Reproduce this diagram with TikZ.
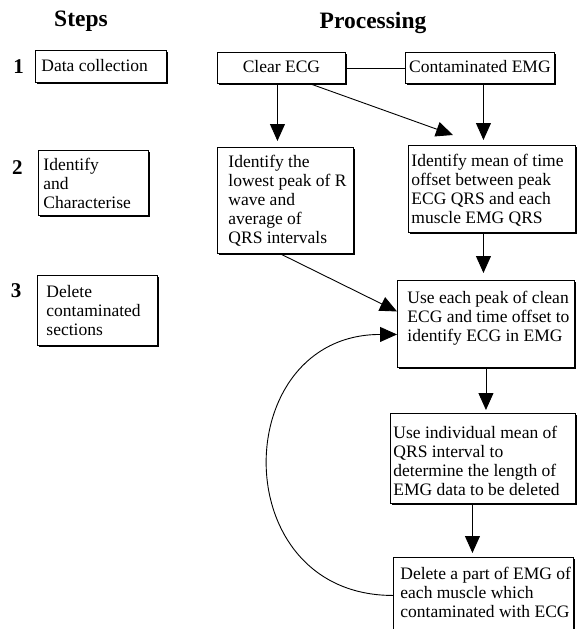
\documentclass[tikz,border=0pt]{standalone}
\usepackage{fontspec}
\setmainfont{Liberation Serif}
\usetikzlibrary{arrows.meta,shadows}
\newcommand\bodyfont{\fontsize{17.5}{19}\selectfont}
\newcommand\bxt[3]{\parbox[t]{#1}{\leftskip=#2\relax\rightskip=0pt plus 1fil\relax\parfillskip=0pt plus 1fil\relax\bodyfont #3}}
\newcommand\bxc[2]{\parbox[t]{#1}{\centering\bodyfont #2}}
\tikzset{
  box/.style={draw, line width=0.9pt, fill=white, inner sep=0pt, anchor=north west,
    drop shadow={shadow xshift=1.1pt, shadow yshift=-1.1pt, opacity=1, fill=black}},
  arr/.style={line width=0.9pt, -{Triangle[length=17pt,width=15pt]}},
  link/.style={line width=0.9pt},
  head/.style={font=\fontsize{23.5}{28}\selectfont\bfseries, inner sep=0pt, anchor=base},
  num/.style={font=\fontsize{21}{24}\selectfont\bfseries, inner sep=0pt, anchor=base}
}
\begin{document}
\begin{tikzpicture}[x=1pt,y=-1pt]
\fill[white] (0,0) rectangle (580,629);
\useasboundingbox (0,0) rectangle (580,629);

% headings and step numbers
\node[head] (steps) at (81,27) {Steps};
\node[head] (proc) at (373,28) {Processing};
\node[num] (n1) at (18.5,73) {1};
\node[num] (n2) at (17.5,174) {2};
\node[num] (n3) at (16,297) {3};

% step boxes
\node[box, minimum width=131pt, text height=21pt, text depth=11pt] (dc) at (35,50)
  {\bxt{131pt}{6pt}{Data collection}};
\node[box, minimum width=110pt, text height=20pt, text depth=45pt] (ic) at (38,150)
  {\bxt{110pt}{5pt}{Identify\\and\\Characterise}};
\node[box, minimum width=120pt, text height=22pt, text depth=48pt] (del) at (37,275)
  {\bxt{120pt}{9pt}{Delete\\contaminated\\sections}};

% processing boxes
\node[box, minimum width=128pt, text height=20pt, text depth=11pt] (clear) at (217,52)
  {\bxc{128pt}{Clear ECG}};
\node[box, minimum width=149pt, text height=20pt, text depth=11pt] (cemg) at (405,52)
  {\bxc{149pt}{Contaminated EMG}};
\node[box, minimum width=136pt, text height=20pt, text depth=86pt] (low) at (217,147)
  {\bxt{136pt}{11pt}{Identify the\\lowest peak of R\\wave and\\average of\\QRS intervals}};
\node[box, minimum width=167pt, text height=21pt, text depth=66pt] (mean) at (408,145)
  {\bxt{167pt}{3pt}{Identify mean of time\\offset between peak\\ECG QRS and each\\muscle EMG QRS}};
\node[box, minimum width=177pt, text height=23pt, text depth=64pt] (peak) at (397,280)
  {\bxt{177pt}{10pt}{Use each peak of clean\\ECG and time offset to\\identify ECG in EMG}};
\node[box, minimum width=185pt, text height=25pt, text depth=65pt] (indiv) at (390,413)
  {\bxt{185pt}{3pt}{Use individual mean of\\QRS interval to\\determine the length of\\EMG data to be deleted}};
\node[box, minimum width=180pt, text height=22pt, text depth=54pt] (delp) at (393,557)
  {\bxt{180pt}{7pt}{Delete a part of EMG of\\each muscle which\\contaminated with ECG}};

% connectors
\draw[link] (clear.east) -- (cemg.west);
\draw[arr, shorten >=6pt] ([xshift=-4pt]clear.south) -- ([xshift=-4pt]clear.south |- low.north);
\draw[arr] ([xshift=29pt]clear.south) -- ([shift={(45pt,10pt)}]mean.north west);
\draw[arr, shorten >=5pt] ([xshift=3.5pt]cemg.south) -- ([xshift=3.5pt]cemg.south |- mean.north);
\draw[arr, shorten >=7pt] ([xshift=-8.5pt]mean.south) -- ([xshift=-8.5pt]mean.south |- peak.north);
\draw[arr] ([xshift=-5pt]low.south) -- ([yshift=12.5pt]peak.west);
\draw[arr, shorten >=3pt] (peak.south) -- (peak.south |- indiv.north);
\draw[arr, shorten >=4pt] ([xshift=-10.5pt]indiv.south) -- ([xshift=-10.5pt]indiv.south |- delp.north);
\draw[arr] (delp.west) .. controls +(-169,0) and +(-169,0) .. ([yshift=-10.5pt]peak.west);
\end{tikzpicture}
\end{document}
